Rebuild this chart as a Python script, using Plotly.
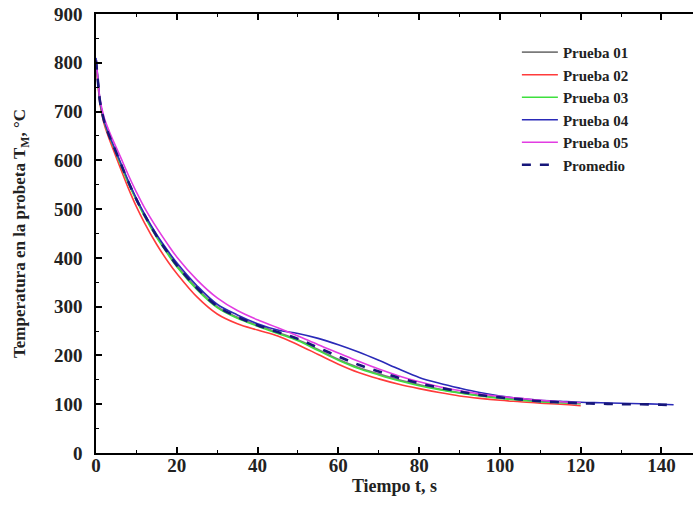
import plotly.graph_objects as go

t = [0, 0.5, 1, 2, 3, 4, 6, 8, 10, 12, 15, 18, 20, 25, 30, 35, 40, 45, 50, 55, 60,
     65, 70, 75, 80, 85, 90, 95, 100, 105, 110, 115, 120]
t_ext = t + [125, 130, 135, 140, 143]

p01 = [805, 760, 720, 680, 655, 635, 595, 555, 520, 488, 445, 408, 385, 338, 300, 278, 262,
       247, 232, 212, 192, 175, 162, 150, 140, 131, 124, 118, 113, 109, 106, 104, 102]
p02 = [800, 755, 715, 675, 650, 628, 585, 543, 505, 472, 428, 390, 368, 320, 285, 265, 252,
       240, 222, 202, 182, 165, 152, 141, 132, 124, 117, 112, 108, 105, 102, 100, 97]
p03 = [805, 760, 720, 680, 655, 635, 593, 553, 518, 485, 442, 405, 382, 335, 298, 276, 260,
       245, 230, 210, 190, 173, 160, 148, 138, 130, 123, 117, 112, 108, 105, 103, 101]
p04 = [810, 765, 722, 682, 657, 637, 597, 558, 522, 490, 448, 412, 390, 343, 305, 283, 265,
       252, 245, 235, 222, 207, 190, 172, 155, 143, 133, 124, 117, 112, 108, 106, 104,
       103, 102, 101, 100, 99]
p05 = [805, 765, 725, 688, 665, 645, 608, 570, 535, 503, 462, 425, 402, 355, 318, 292, 273,
       257, 240, 222, 205, 188, 172, 158, 146, 136, 128, 121, 116, 112, 108, 105, 103]
prom = [805, 760, 720, 681, 656, 636, 596, 556, 520, 488, 445, 408, 385, 338, 301, 279, 262,
        248, 234, 216, 198, 181, 167, 154, 143, 134, 126, 119, 114, 110, 106, 104, 102,
        101, 100, 100, 99, 98]

series = [
    ("Prueba 01", t, p01, "#7a7a7a", 1.8, "solid"),
    ("Prueba 02", t, p02, "#ff3b3b", 1.6, "solid"),
    ("Prueba 03", t, p03, "#3ee03e", 1.6, "solid"),
    ("Prueba 04", t_ext, p04, "#2a2ab8", 1.6, "solid"),
    ("Prueba 05", t, p05, "#e23ce2", 1.6, "solid"),
    ("Promedio", t_ext, prom, "#16167a", 2.6, "dash"),
]

FONT = "Liberation Serif"
fig = go.Figure()
for name, x, y, c, w, d in series:
    fig.add_trace(go.Scatter(x=x, y=y, mode="lines", name=name,
                             line=dict(color=c, width=w, dash=d, shape="spline")))

axis_common = dict(showgrid=False, zeroline=False, showline=True, linecolor="black",
                   linewidth=1.5, ticks="inside", ticklen=6, tickwidth=1.5, tickcolor="black",
                   tickfont=dict(family=FONT, size=19, color="#222", weight="bold"))

fig.update_layout(
    width=693, height=518,
    margin=dict(l=96, r=0, t=14, b=65),
    paper_bgcolor="white", plot_bgcolor="white",
    font=dict(family=FONT, color="#222"),
    xaxis=dict(range=[0, 147.8], tickmode="linear", tick0=0, dtick=20,
               minor=dict(ticks="inside", dtick=10, ticklen=3, tickwidth=1.2, tickcolor="black"),
               mirror="allticks", ticklabelstandoff=-6,
               title=dict(text="Tiempo t, s", font=dict(family=FONT, size=18, weight="bold"),
                          standoff=2),
               **axis_common),
    yaxis=dict(range=[0, 900], tickmode="linear", tick0=0, dtick=100,
               minor=dict(ticks="inside", dtick=50, ticklen=3, tickwidth=1.2, tickcolor="black"),
               ticklabelstandoff=8,
               title=dict(text="Temperatura en la probeta T<sub>M</sub>, °C",
                          font=dict(family=FONT, size=17, weight="bold"), standoff=24),
               **axis_common),
    legend=dict(x=0.705, y=0.95, xanchor="left", yanchor="top", bgcolor="rgba(0,0,0,0)",
                font=dict(family=FONT, size=15, color="#222", weight="bold"), itemwidth=36),
)

fig.write_html("out.html")
